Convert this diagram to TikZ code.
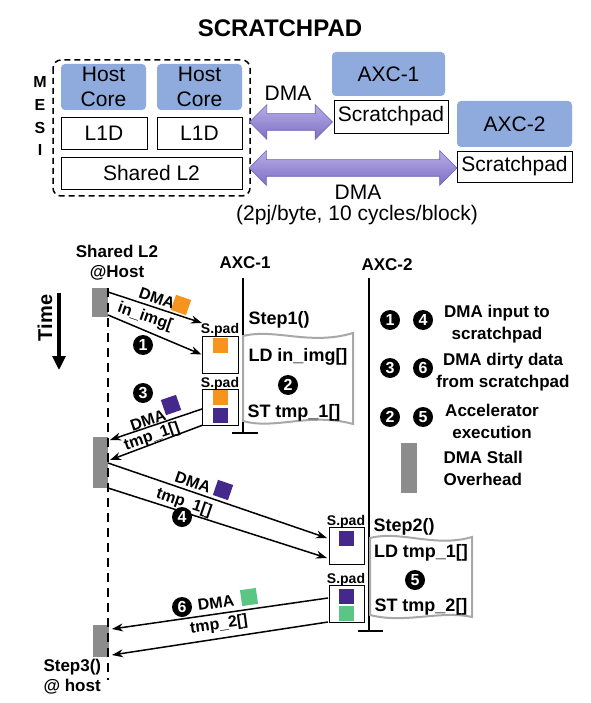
\documentclass[tikz,border=0pt]{standalone}
\usepackage{fontspec}
\setmainfont{Liberation Sans}
\usetikzlibrary{shapes.arrows,arrows.meta,calc}
\definecolor{coreblue}{HTML}{8FAADC}
\definecolor{sqorange}{HTML}{F7941D}
\definecolor{sqpurple}{HTML}{44288C}
\definecolor{sqgreen}{HTML}{5BC584}
\definecolor{stallgray}{HTML}{8C8C8C}
\definecolor{wavegray}{HTML}{A8A8A8}
\definecolor{dmatop}{HTML}{B7ADE8}
\definecolor{dmabot}{HTML}{7E6FC4}
\definecolor{dmaedge}{HTML}{6F5FB5}
\begin{document}
\begin{tikzpicture}[x=1pt,y=-1pt,
 reg/.style={font=\fontsize{21}{25}\selectfont},
 b18/.style={font=\fontsize{18}{22}\selectfont\bfseries},
 b17/.style={font=\fontsize{17}{22}\selectfont\bfseries},
 b16/.style={font=\fontsize{16}{18}\selectfont\bfseries},
 b14/.style={font=\fontsize{14}{16}\selectfont\bfseries},
 bluebox/.style={fill=coreblue, rounded corners=4pt, align=center, inner sep=0pt, reg},
 wbox/.style={draw=black, line width=0.9pt, fill=white, inner sep=0pt, reg},
 padbox/.style={draw=black, line width=0.9pt, fill=white, minimum width=36pt, minimum height=37pt, inner sep=0pt},
 sq/.style={minimum size=15pt, inner sep=0pt},
 cnum/.style={circle, fill=black, text=white, inner sep=0pt, minimum size=20pt, font=\fontsize{16}{16}\selectfont\bfseries},
 msg/.style={line width=1.5pt, -{Stealth[length=11pt,width=8pt]}},
 dmaarrow/.style={double arrow, double arrow head extend=9pt, inner xsep=0pt, inner ysep=8pt, top color=dmatop, bottom color=dmabot, draw=dmaedge, line width=0.6pt},
 wave/.style={draw=wavegray, line width=2pt, fill=white},
 stall/.style={fill=stallgray},
 life/.style={line width=1.2pt},
]
\useasboundingbox (0,0) rectangle (590,703);
\fill[white] (0,0) rectangle (590,703);

% ---------- top part ----------
\node[font=\fontsize{24}{26}\selectfont\bfseries] (title) at (280,28) {SCRATCHPAD};
\draw[dashed, line width=1.5pt, dash pattern=on 6pt off 4pt, rounded corners=8pt] (53,60) rectangle (250,196);
\node[b16] (m) at (40,82) {M};
\node[b16] (e) at (40,105) {E};
\node[b16] (s) at (40,128) {S};
\node[b16] (i) at (40,150) {I};
\node[bluebox, minimum width=85pt, minimum height=46pt] (core1) at (103.5,87) {Host\\Core};
\node[bluebox, minimum width=85pt, minimum height=46pt] (core2) at (199.5,87) {Host\\Core};
\node[wbox, minimum width=86pt, minimum height=32pt] (l1a) at (104,133) {L1D};
\node[wbox, minimum width=85pt, minimum height=32pt] (l1b) at (199.5,133) {L1D};
\node[wbox, minimum width=181pt, minimum height=32pt] (l2) at (151.5,173) {Shared L2};
\node[bluebox, minimum width=113pt, minimum height=44pt] (axc1) at (388.5,74) {AXC-1};
\node[wbox, minimum width=114pt, minimum height=33pt] (sp1) at (391,116.5) {Scratchpad};
\node[bluebox, minimum width=115pt, minimum height=46pt] (axc2) at (514.5,124) {AXC-2};
\node[wbox, minimum width=115pt, minimum height=31pt] (sp2) at (514.5,166.5) {Scratchpad};
\node[dmaarrow, minimum height=83pt] (dmaA) at (291,122) {};
\node[dmaarrow, minimum height=208pt] (dmaB) at (353,168) {};
\node[reg] (dmaAl) at (288,93) {DMA};
\node[reg] (dmaBl) at (358,192) {DMA};
\node[reg] (cost) at (357,215) {(2pj/byte, 10 cycles/block)};

% ---------- bottom part ----------
\node[align=center, font=\fontsize{17}{20}\selectfont\bfseries] (hostlbl) at (117,263) {Shared L2\\@Host};
\node[b17] (axc1lbl) at (245,263) {AXC-1};
\node[b17] (axc2lbl) at (387,265) {AXC-2};
\node[font=\fontsize{20}{22}\selectfont\bfseries, rotate=90] (time) at (45,318) {Time};
\coordinate (timeS) at (59,293);
\coordinate (timeE) at (59,370);
\draw[line width=3.2pt, -{Triangle[length=14pt,width=13pt]}] (timeS) -- (timeE);

% host lifeline
\coordinate (hostTop) at (108,288);
\coordinate (hostBot) at (108,680);
\fill[stall] (92,288) rectangle (108,317);
\fill[stall] (93,437) rectangle (108,488);
\fill[stall] (93,625) rectangle (109,657);
\draw[line width=2.5pt, dash pattern=on 9pt off 6pt] (hostTop) -- (hostBot);

% AXC lifelines
\coordinate (ax1Top) at (243,278);
\coordinate (ax1Bot) at (243,433);
\coordinate (ax1L) at (232,433);
\coordinate (ax1R) at (258,433);
\draw[life] (ax1Top) -- (ax1Bot);
\draw[life] (ax1L) -- (ax1R);
\coordinate (ax2Top) at (369,278);
\coordinate (ax2Bot) at (369,631);
\coordinate (ax2L) at (358,631);
\coordinate (ax2R) at (383,631);
\draw[life] (ax2Top) -- (ax2Bot);
\draw[life] (ax2L) -- (ax2R);

% wavy execution boxes
\draw[wave] (243,336) .. controls (275,328) and (310,346) .. (353,333) -- (353,424)
  .. controls (310,412) and (275,430) .. (243,421) -- cycle;
\draw[wave] (370,538) .. controls (400,530) and (435,548) .. (472,537) -- (472,617)
  .. controls (440,610) and (405,624) .. (370,615) -- cycle;

\node[b18] (step1) at (279,320) {Step1()};
\node[b18] (ld1) at (298,357) {LD in\_img[]};
\node[cnum] (c2) at (288,385) {2};
\node[b18] (st1) at (294,413) {ST tmp\_1[]};
\node[b18] (step2) at (404,527) {Step2()};
\node[b18] (ld2) at (421,553) {LD tmp\_1[]};
\node[cnum] (c5) at (415,580) {5};
\node[b18] (st2) at (421,607) {ST tmp\_2[]};

% scratchpad boxes
\node[padbox] (pad1) at (220,354.5) {};
\node[b14] (pad1l) at (220,330) {S.pad};
\node[sq, fill=sqorange] (p1o) at (220,345) {};
\node[padbox, minimum height=36pt] (pad2) at (220,407) {};
\node[b14] (pad2l) at (220,384) {S.pad};
\node[sq, fill=sqorange] (p2o) at (220,397) {};
\node[sq, fill=sqpurple] (p2p) at (220,415) {};
\node[padbox, minimum width=35pt] (pad3) at (346.5,545.5) {};
\node[b14] (pad3l) at (346,522) {S.pad};
\node[sq, fill=sqpurple] (p3p) at (346,538) {};
\node[padbox, minimum width=35pt] (pad4) at (346.5,603.5) {};
\node[b14] (pad4l) at (346,580) {S.pad};
\node[sq, fill=sqpurple] (p4p) at (346,596) {};
\node[sq, fill=sqgreen] (p4g) at (346,613) {};

% step 1 messages
\coordinate (h1a) at (108,292);
\coordinate (h1b) at (108,315);
\coordinate (s1a) at (202,323);
\draw[msg] (h1a) -- (s1a);
\draw[msg] (h1b) -- (pad1.west);
\node[b16, rotate=-19] (dma1) at (157,298) {DMA};
\node[sq, fill=sqorange, minimum size=16pt, rotate=-19] (sq1) at (181,305) {};
\node[b16, rotate=-19] (img1) at (145,317) {in\_img[};
\node[cnum] (c1) at (143,345) {1};

% step 3 messages
\coordinate (s3a) at (202,409);
\coordinate (s3b) at (203,425);
\coordinate (h3a) at (110,440);
\coordinate (h3b) at (110,460);
\draw[msg] (s3a) -- (h3a);
\draw[msg] (s3b) -- (h3b);
\node[cnum] (c3) at (143,393) {3};
\node[b16, rotate=19] (dma3) at (148,420) {DMA};
\node[sq, fill=sqpurple, minimum size=16pt, rotate=19] (sq3) at (171,405) {};
\node[b16, rotate=19] (tmp3) at (152,437) {tmp\_1[]};

% step 4 messages
\coordinate (h4a) at (108,463);
\coordinate (h4b) at (108,488);
\coordinate (s4a) at (327,538);
\coordinate (s4b) at (327,558);
\draw[msg] (h4a) -- (s4a);
\draw[msg] (h4b) -- (s4b);
\node[b16, rotate=-19] (dma4) at (193,482) {DMA};
\node[sq, fill=sqpurple, minimum size=16pt, rotate=-19] (sq4) at (223,490) {};
\node[b16, rotate=-19] (tmp4) at (184,503) {tmp\_1[]};
\node[cnum] (c4) at (182,517) {4};

% step 6 messages
\coordinate (s6a) at (328,598);
\coordinate (s6b) at (328,622);
\coordinate (h6a) at (112,629);
\coordinate (h6b) at (112,655);
\draw[msg] (s6a) -- (h6a);
\draw[msg] (s6b) -- (h6b);
\node[cnum] (c6) at (182,607) {6};
\node[b16, rotate=8] (dma6) at (216,603) {DMA};
\node[sq, fill=sqgreen, minimum size=16pt, rotate=8] (sq6) at (249,597) {};
\node[b16, rotate=8] (tmp6) at (219,625) {tmp\_2[]};

\node[align=left, anchor=west, font=\fontsize{17}{20}\selectfont\bfseries] (step3) at (40,677) {Step3()\\@ host};

% legend
\node[cnum] (lg1) at (390,320) {1};
\node[cnum] (lg4) at (423,320) {4};
\node[b17, align=center] (lgt1) at (497,324) {DMA input to\\scratchpad};
\node[cnum] (lg3) at (390,368) {3};
\node[cnum] (lg6) at (423,368) {6};
\node[b17, align=center] (lgt2) at (503,372) {DMA dirty data\\from scratchpad};
\node[cnum] (lg2) at (390,417) {2};
\node[cnum] (lg5) at (423,417) {5};
\node[b17, align=center] (lgt3) at (492,421) {Accelerator\\execution};
\fill[stall] (401,443) rectangle (417,493);
\node[b17, align=left, anchor=west] (lgt4) at (440,468) {DMA Stall\\Overhead};
\end{tikzpicture}
\end{document}
